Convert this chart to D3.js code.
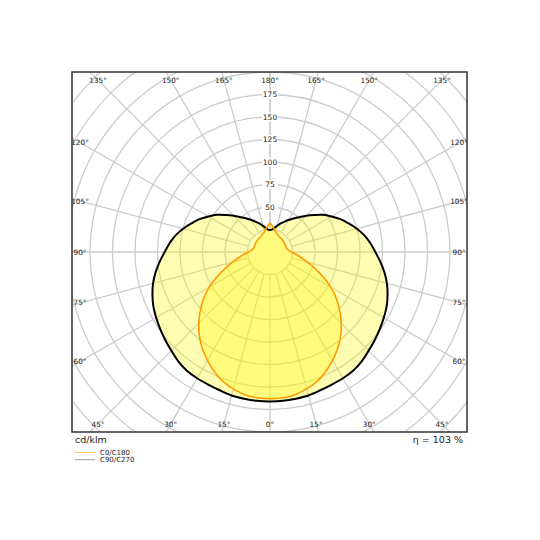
<!DOCTYPE html>
<html lang="en">
<head>
<meta charset="utf-8">
<title>Light distribution</title>
<script src="https://d3js.org/d3.v7.min.js"></script>
<style>
  body { margin: 0; background: #fff; }
  text { font-family: "DejaVu Sans", sans-serif; }
</style>
</head>
<body>
<svg id="ldc"></svg>
<script>
// gamma angles (0 = straight down, 180 = straight up), both planes symmetric
var gammas  = [0,5,10,15,20,25,30,35,40,45,50,55,60,65,70,75,80,85,90,
               95,100,105,110,115,120,125,130,135,140,145,150,155,160,165,170,175,180];
var c0c180  = [163,162.5,161,157.5,153,146.5,139,131,122,112,101,90,78,65,53,43,35,29,24,
               21,19.5,18.5,18.5,18.5,18.7,19,19,19.3,19.5,19.7,20,21,22,23.5,26,29,32];
var c90c270 = [166,166,165.5,165,163.5,162.5,162,161,158.5,155,152,149,146,143,139,134.5,129,123,117,
               112,106.5,100,93,86.5,79,72,64,57,50.5,45.5,41,37,33.5,30,27,25,24.5];
var ringValues  = [25,50,75,100,125,150,175,200,225,250,275,300];
var ringLabels  = [50,75,100,125,150,175];
var spokeAngles = d3.range(-180, 181, 15);
var unit = "cd/klm";
var efficiency = "η = 103 %";
var legendNames = ["C0/C180", "C90/C270"];

var width = 540, height = 540;
var box = {left: 72, top: 72, right: 467, bottom: 432};
var cx = 270, cy = 252;

var svg = d3.select("#ldc").attr("width", width).attr("height", height);

var r = d3.scaleLinear().domain([0, 200]).range([0, 180]);

svg.append("clipPath").attr("id", "boxClip")
  .append("rect")
  .attr("x", box.left).attr("y", box.top)
  .attr("width", box.right - box.left).attr("height", box.bottom - box.top);

var plot = svg.append("g").attr("clip-path", "url(#boxClip)");
var grid = plot.append("g").attr("transform", "translate(" + cx + "," + cy + ")");

// rings
grid.selectAll("circle")
  .data(ringValues)
  .enter().append("circle")
  .attr("r", d => r(d))
  .attr("fill", "none")
  .attr("stroke", "#cccccc")
  .attr("stroke-width", 1.3);

// spokes, gamma measured from the bottom
grid.selectAll("line")
  .data(spokeAngles)
  .enter().append("line")
  .attr("x1", d => r(25) * Math.sin(d * Math.PI / 180))
  .attr("y1", d => r(25) * Math.cos(d * Math.PI / 180))
  .attr("x2", d => r(400) * Math.sin(d * Math.PI / 180))
  .attr("y2", d => r(400) * Math.cos(d * Math.PI / 180))
  .attr("stroke", "#cccccc")
  .attr("stroke-width", 1.3);

// value labels on the upward axis
var rl = grid.selectAll("g.rl")
  .data(ringLabels)
  .enter().append("g").attr("class", "rl")
  .attr("transform", d => "translate(0," + (-r(d)) + ")");
rl.append("rect")
  .attr("x", -8).attr("y", -4.5).attr("width", 16).attr("height", 9)
  .attr("fill", "#fff");
rl.append("text")
  .attr("text-anchor", "middle")
  .attr("dy", "0.35em")
  .attr("font-size", 7.5)
  .attr("fill", "#222")
  .text(d => d);

// curves: lineRadial angle runs clockwise from 12 o'clock
function closedPoints(vals) {
  var pts = [];
  gammas.slice().reverse().forEach(function(g, i) {
    pts.push([Math.PI - g * Math.PI / 180, vals[gammas.length - 1 - i]]);
  });
  gammas.forEach(function(g, i) {
    if (g > 0 && g < 180) pts.push([Math.PI + g * Math.PI / 180, vals[i]]);
  });
  return pts;
}

var radial = d3.lineRadial()
  .angle(d => d[0])
  .radius(d => r(d[1]))
  .curve(d3.curveCatmullRomClosed);

var curves = plot.append("g").attr("transform", "translate(" + cx + "," + cy + ")");

curves.append("path")
  .attr("d", radial(closedPoints(c90c270)))
  .attr("fill", "#fff700").attr("fill-opacity", 0.3)
  .attr("stroke", "none");
curves.append("path")
  .attr("d", radial(closedPoints(c0c180)))
  .attr("fill", "#fff700").attr("fill-opacity", 0.3)
  .attr("stroke", "none");
curves.append("path")
  .attr("d", radial(closedPoints(c90c270)))
  .attr("fill", "none").attr("stroke", "#000").attr("stroke-width", 2);
curves.append("path")
  .attr("d", radial(closedPoints(c0c180)))
  .attr("fill", "none").attr("stroke", "#ff9a00").attr("stroke-width", 1.6);

// angle labels where each spoke meets a box inset by 8px
var inset = {left: box.left + 8, right: box.right - 8, top: box.top + 8, bottom: box.bottom - 8};
function labelPos(a) {
  var s = Math.sin(a * Math.PI / 180), c = Math.cos(a * Math.PI / 180);
  var ts = [];
  if (s > 1e-9) ts.push((inset.right - cx) / s);
  if (s < -1e-9) ts.push((inset.left - cx) / s);
  if (c > 1e-9) ts.push((inset.bottom - cy) / c);
  if (c < -1e-9) ts.push((inset.top - cy) / c);
  var t = d3.min(ts);
  return [cx + t * s, cy + t * c];
}
plot.append("g").selectAll("text")
  .data(spokeAngles.filter(a => a !== -180))
  .enter().append("text")
  .attr("x", d => labelPos(d)[0])
  .attr("y", d => labelPos(d)[1])
  .attr("text-anchor", "middle")
  .attr("dy", "0.35em")
  .attr("font-size", 7.3)
  .attr("fill", "#222")
  .text(d => Math.abs(d) + "°");

// frame
svg.append("rect")
  .attr("x", box.left).attr("y", box.top)
  .attr("width", box.right - box.left).attr("height", box.bottom - box.top)
  .attr("fill", "none").attr("stroke", "#333").attr("stroke-width", 1.5);

svg.append("text")
  .attr("x", 75).attr("y", 442.5)
  .attr("font-size", 9.5).attr("fill", "#222")
  .text(unit);
svg.append("text")
  .attr("x", 463).attr("y", 442.5)
  .attr("text-anchor", "end")
  .attr("font-size", 9.5).attr("fill", "#222")
  .text(efficiency);

// legend
var legendColors = ["#ffc56b", "#999999"];
var lg = svg.append("g").selectAll("g")
  .data(legendNames)
  .enter().append("g")
  .attr("transform", (d, i) => "translate(75," + (452.5 + i * 7.2) + ")");
lg.append("line")
  .attr("x1", 0).attr("x2", 20)
  .attr("stroke", (d, i) => legendColors[i]).attr("stroke-width", 1);
lg.append("text")
  .attr("x", 25).attr("dy", "0.35em")
  .attr("font-size", 7).attr("fill", "#222")
  .text(d => d);
</script>
</body>
</html>
